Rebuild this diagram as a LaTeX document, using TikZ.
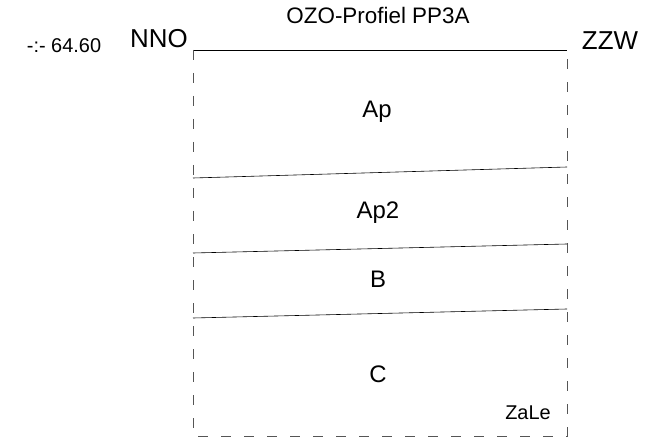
\documentclass[tikz,border=0pt]{standalone}
\usepackage{fontspec}
\setmainfont{Liberation Sans}
\usetikzlibrary{calc}
\definecolor{ink}{HTML}{000000}
\definecolor{edgegray}{HTML}{555555}

\begin{document}
\begin{tikzpicture}[
  x=1bp, y=-1bp,
  layer/.style={draw=ink, line width=0.6pt},
  border/.style={draw=edgegray, line width=0.7pt, dash pattern=on 10bp off 13bp},
  side/.style={anchor=base, text=ink, font=\fontsize{26}{28}\selectfont},
  title/.style={anchor=base, text=ink, font=\fontsize{22.5}{24}\selectfont},
  hlabel/.style={anchor=base, text=ink, font=\fontsize{20}{22}\selectfont},
  unit/.style={anchor=base, text=ink, font=\fontsize{24}{26}\selectfont},
  sign/.style={anchor=base, text=ink, font=\fontsize{20}{22}\selectfont}
]
\useasboundingbox (0,0) rectangle (669,438);

% profile frame
\coordinate (tl) at (193,50);
\coordinate (tr) at (567,50);
\coordinate (bl) at (193,436);
\coordinate (br) at (567,436);
\draw[layer] (tl) -- (tr);
\draw[border] (tl) -- (bl) -- (br) -- (tr);

% layer boundaries
\coordinate (l1) at (193,178);  \coordinate (r1) at (567,167);
\coordinate (l2) at (193,253);  \coordinate (r2) at (567,244);
\coordinate (l3) at (193,318);  \coordinate (r3) at (567,309);
\foreach \i in {1,2,3} {\draw[layer] (l\i) -- (r\i);}

% headings
\node[title] (head) at (378,24) {OZO-Profiel PP3A};
\node[side] (nno) at (159,48) {NNO};
\node[side] (zzw) at (610,50) {ZZW};
\node[sign] (level) at (64,53) {-:- 64.60};

% horizons
\node[unit] (ap) at (377,118) {Ap};
\node[unit] (ap2) at (378,219) {Ap2};
\node[unit] (b) at (378,288) {B};
\node[unit] (c) at (378,382) {C};
\node[hlabel] (zale) at (528,419) {ZaLe};
\end{tikzpicture}
\end{document}
